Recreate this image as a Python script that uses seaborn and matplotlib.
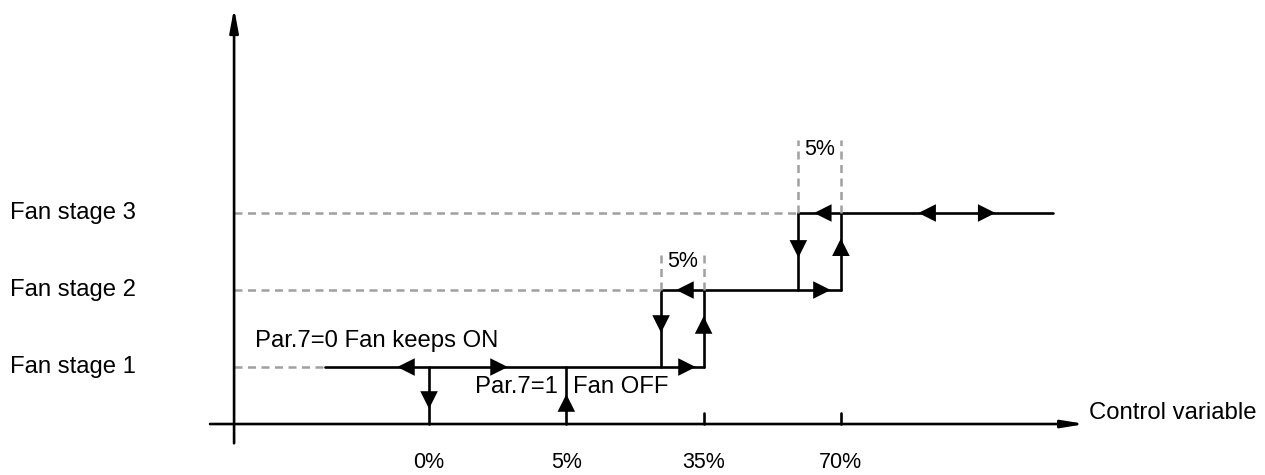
import matplotlib
matplotlib.use("Agg")
import matplotlib.pyplot as plt
import seaborn as sns
import numpy as np
import pandas as pd

# --- chart values ---------------------------------------------------------
tick_labels = ["0%", "5%", "35%", "70%"]
tick_pos = [0, 1, 2, 3]                 # control variable, index positions
stage_labels = ["Fan stage 1", "Fan stage 2", "Fan stage 3"]
stage_levels = [1, 2, 3]
off_level = 0.26                        # level of the x axis (fans off)
switch_on = [1, 2, 3]                   # stage k switches on at 5%, 35%, 70%
switch_off = [0, 1.69, 2.69]            # ... and off again (5% hysteresis)
stage1_start = -0.757
stage3_end = 4.545
hyst_label = "5%"

# arrow heads on the hysteresis path (centre x, centre y, direction)
arrow_x = [-0.168, 0.51, 1.879, 1.864, 2.862, 2.868, 3.628, 4.062,
           0, 1.69, 2.69, 1, 2, 3]
arrow_y = [1, 1, 1, 2, 2, 3, 3, 3,
           0.572, 1.559, 2.534, 0.533, 1.546, 2.556]
arrow_dir = ["<", ">", ">", "<", ">", "<", "<", ">",
             "v", "v", "v", "^", "^", "^"]

sns.set_style("white")
plt.rcParams["font.family"] = ["Liberation Sans", "DejaVu Sans"]
plt.rcParams["text.color"] = "black"
fs = 17.2
fs_small = 15.5

fig = plt.figure(figsize=(12.65, 4.75), dpi=100)
ax = fig.add_axes([0, 0, 1, 1])
ax.set_xlim(-3.125, 6.089)
ax.set_ylim(-0.402, 5.766)
ax.set_axis_off()

yaxis_x = -1.42

# solid hysteresis path, one unit per segment
rows = []
def seg(name, xs, ys):
    for x, y in zip(xs, ys):
        rows.append({"seg": name, "x": x, "y": y})

seg("h1", [stage1_start, switch_on[1]], [stage_levels[0]] * 2)
seg("h2", [switch_off[1], switch_on[2]], [stage_levels[1]] * 2)
seg("h3", [switch_off[2], stage3_end], [stage_levels[2]] * 2)
for k in range(3):
    low = off_level if k == 0 else stage_levels[k - 1]
    seg(f"on{k}", [switch_on[k]] * 2, [low, stage_levels[k]])
    seg(f"off{k}", [switch_off[k]] * 2, [low, stage_levels[k]])
# ticks on the control axis
for k in [1, 2]:
    seg(f"tick{k}", [switch_on[k]] * 2, [off_level, off_level + 0.143])
path = pd.DataFrame(rows)

sns.lineplot(data=path, x="x", y="y", units="seg", estimator=None, sort=False,
             color="black", linewidth=1.9, ax=ax, legend=False)

# gray dashed guides
grows = []
starts = [stage1_start, switch_off[1], switch_off[2]]
for k in range(3):
    grows += [{"seg": f"g{k}", "x": yaxis_x, "y": stage_levels[k]},
              {"seg": f"g{k}", "x": starts[k], "y": stage_levels[k]}]
for k, top in [(1, 2.49), (2, 3.95)]:
    for x in [switch_off[k], switch_on[k]]:
        grows += [{"seg": f"v{k}{x}", "x": x, "y": stage_levels[k]},
                  {"seg": f"v{k}{x}", "x": x, "y": top}]
guides = pd.DataFrame(grows)
sns.lineplot(data=guides, x="x", y="y", units="seg", estimator=None, sort=False,
             color="#a0a0a0", linewidth=1.8, linestyle=(0, (3.2, 2.2)), ax=ax,
             legend=False)

# arrow heads
arrows = pd.DataFrame({"x": arrow_x, "y": arrow_y, "dir": arrow_dir})
sns.scatterplot(data=arrows, x="x", y="y", style="dir",
                markers={d: d for d in set(arrow_dir)}, color="black",
                edgecolor="black", linewidth=0, s=160, ax=ax, legend=False,
                zorder=5)

# axes with arrows
ax.annotate("", xy=(yaxis_x, 5.66), xytext=(yaxis_x, 0.01),
            arrowprops=dict(arrowstyle="-|>,head_length=1.4,head_width=0.26",
                            mutation_scale=10, lw=1.9, color="black",
                            shrinkA=0, shrinkB=0))
ax.annotate("", xy=(4.78, off_level), xytext=(-1.595, off_level),
            arrowprops=dict(arrowstyle="-|>,head_length=1.35,head_width=0.22",
                            mutation_scale=10, lw=1.9, color="black",
                            shrinkA=0, shrinkB=0))

# texts
for lab, lvl in zip(stage_labels, stage_levels):
    ax.text(-3.05, lvl, lab, ha="left", va="center", fontsize=fs)
for lab, x in zip(tick_labels, tick_pos):
    ax.text(x, -0.234, lab, ha="center", va="center", fontsize=fs_small)
ax.text(4.807, off_level + 0.143, "Control variable", ha="left", va="center",
        fontsize=fs)
ax.text(-1.267, 1.338, "Par.7=0 Fan keeps ON", ha="left", va="center",
        fontsize=fs)
ax.text(0.935, 0.74, "Par.7=1", ha="right", va="center", fontsize=fs)
ax.text(1.05, 0.74, "Fan OFF", ha="left", va="center", fontsize=fs)
ax.text((switch_off[1] + switch_on[1]) / 2, 2.364, hyst_label, ha="center",
        va="center", fontsize=fs_small)
ax.text((switch_off[2] + switch_on[2]) / 2, 3.82, hyst_label, ha="center",
        va="center", fontsize=fs_small)

fig.savefig("out.png", dpi=100)
